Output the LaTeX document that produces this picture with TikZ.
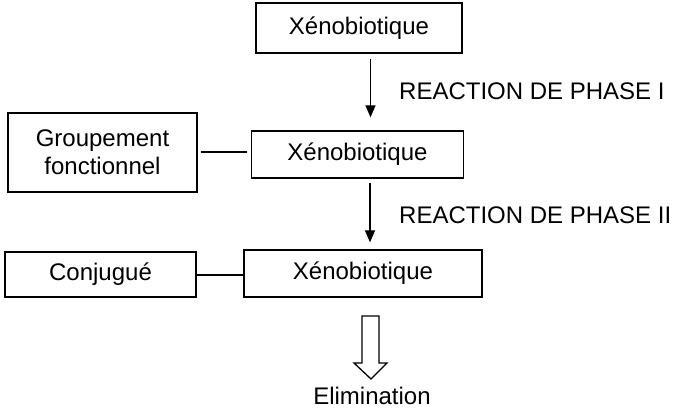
\documentclass[tikz,border=0pt]{standalone}
\usepackage{fontspec}
\setmainfont{Liberation Sans}
\usetikzlibrary{arrows.meta,calc}
\begin{document}
\begin{tikzpicture}[x=1pt,y=-1pt,
  every node/.style={font=\fontsize{24}{28}\selectfont, inner sep=0pt},
  box/.style={draw, line width=1.3pt, align=center},
  link/.style={line width=1.3pt},
  arr/.style={line width=1.3pt, -{Triangle[width=10pt,length=12pt]}},
  lbl/.style={anchor=west}
]
\useasboundingbox (0,0) rectangle (678,411);
\node[box, minimum width=206pt, minimum height=50pt] (b1) at (359,28) {Xénobiotique};
\node[box, minimum width=212pt, minimum height=47pt] (b2) at (357.5,154.5) {Xénobiotique};
\node[box, minimum width=189pt, minimum height=79pt] (g) at (102.5,152.5) {Groupement\\fonctionnel};
\node[box, minimum width=238pt, minimum height=47pt] (b3) at (363,273.5) {Xénobiotique};
\node[box, minimum width=191pt, minimum height=45pt] (c) at (100.5,274.5) {Conjugué};
\node[lbl] (r1) at (399,91) {REACTION DE PHASE I};
\node[lbl] (r2) at (399,215) {REACTION DE PHASE II};
\node (el) at (372,396) {Elimination};
\coordinate (x1) at (370.5,0);
\coordinate (x2) at (370,0);
\draw[arr, shorten <=5pt, shorten >=13pt] (b1.south -| x1) -- (b2.north -| x1);
\draw[arr, shorten <=4pt, shorten >=7pt] (b2.south -| x2) -- (b3.north -| x2);
\draw[link, shorten <=3pt, shorten >=4pt] (g.east |- 0,152) -- (b2.west |- 0,152);
\draw[link] (c.east |- 0,275) -- (b3.west |- 0,275);
\draw[line width=1.3pt, line join=miter, fill=white]
  (362,316) -- (379,316) -- (379,363) -- (387,363) -- (371,379) -- (354,363) -- (362,363) -- cycle;
\end{tikzpicture}
\end{document}
